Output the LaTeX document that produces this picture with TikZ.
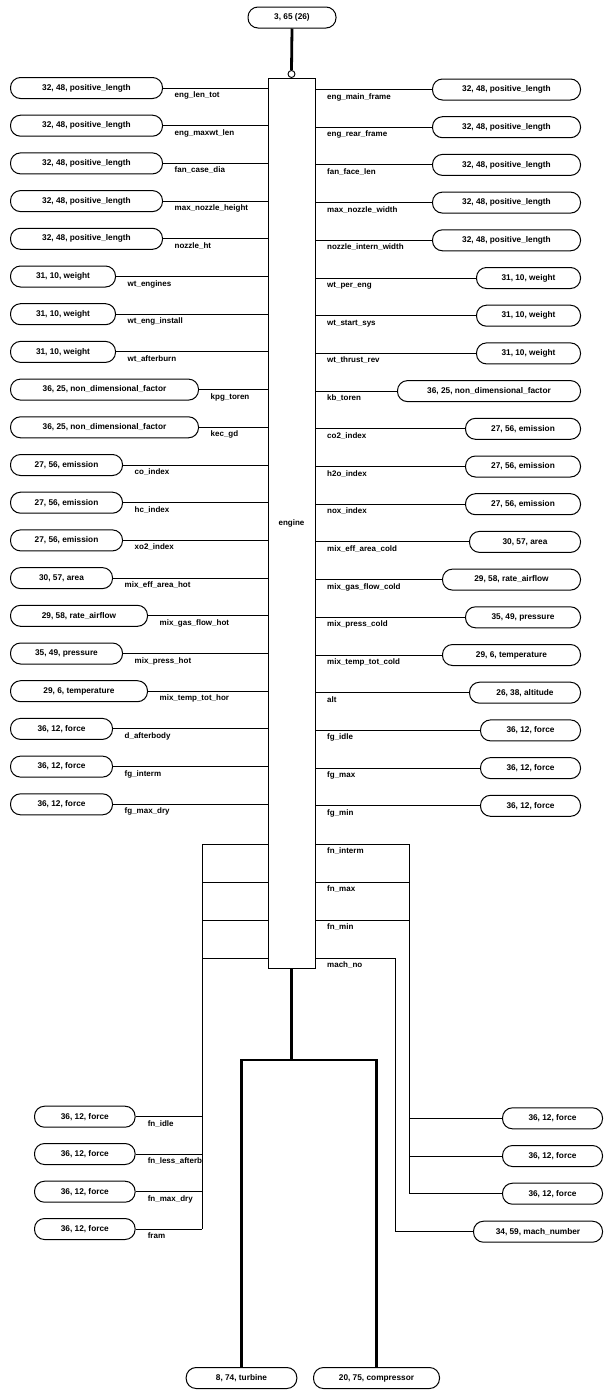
\documentclass[tikz,border=0pt]{standalone}
\usepackage{fontspec}
\setmainfont{Liberation Sans}
\begin{document}
\begin{tikzpicture}[x=1pt,y=-1pt,
  ent/.style={draw, line width=1pt, rounded corners=10pt, minimum height=21pt,
    inner sep=0pt, font=\bfseries\fontsize{8.3}{9}\selectfont},
  role/.style={inner sep=0pt, font=\bfseries\fontsize{8}{9}\selectfont},
  rel/.style={line width=0.9pt},
  thickrel/.style={line width=2.8pt},
]
\useasboundingbox (0,0) rectangle (604,1390);

% type references
\def\pl{32, 48, positive\_length}
\def\wt{31, 10, weight}
\def\nd{36, 25, non\_dimensional\_factor}
\def\em{27, 56, emission}
\def\ar{30, 57, area}
\def\ra{29, 58, rate\_airflow}
\def\pr{35, 49, pressure}
\def\te{29, 6, temperature}
\def\al{26, 38, altitude}
\def\fo{36, 12, force}

% entity box and its supertype reference
\node[draw, line width=1pt, fill=white, minimum width=47pt, minimum height=890pt,
  inner sep=0pt, font=\bfseries\fontsize{8}{9}\selectfont] (eng) at (291.5,523) {engine};
\node[ent, minimum width=88pt] (top) at (292,17.5) {3, 65 (26)};
\node[circle, draw, fill=white, line width=0.9pt, minimum size=7pt, inner sep=0pt] (circ) at (291.5,74) {};
\draw[thickrel] (top.south) -- (circ.north);

% attributes on the left
\foreach \t/\w/\lab [count=\i from 0] in {
  \pl/152/eng\_len\_tot, \pl/152/eng\_maxwt\_len, \pl/152/fan\_case\_dia,
  \pl/152/max\_nozzle\_height, \pl/152/nozzle\_ht,
  \wt/105/wt\_engines, \wt/105/wt\_eng\_install, \wt/105/wt\_afterburn,
  \nd/188/kpg\_toren, \nd/188/kec\_gd,
  \em/112/co\_index, \em/112/hc\_index, \em/112/xo2\_index,
  \ar/102/mix\_eff\_area\_hot, \ra/137/mix\_gas\_flow\_hot,
  \pr/112/mix\_press\_hot, \te/137/mix\_temp\_tot\_hor,
  \fo/102/d\_afterbody, \fo/102/fg\_interm, \fo/102/fg\_max\_dry} {
  \pgfmathsetmacro\yy{88+37.7*\i}
  \node[ent, minimum width=\w pt, anchor=west] (L\i) at (10,\yy) {\t};
  \draw[rel] (L\i.east) -- (L\i.east -| eng.west);
  \node[role, anchor=base west] (Ll\i) at ([xshift=11.5pt,yshift=-9.5pt]L\i.east) {\lab};
}

% attributes on the right
\foreach \t/\w/\lab [count=\i from 0] in {
  \pl/148/eng\_main\_frame, \pl/148/eng\_rear\_frame, \pl/148/fan\_face\_len,
  \pl/148/max\_nozzle\_width, \pl/148/nozzle\_intern\_width,
  \wt/104/wt\_per\_eng, \wt/104/wt\_start\_sys, \wt/104/wt\_thrust\_rev,
  \nd/183/kb\_toren,
  \em/115/co2\_index, \em/115/h2o\_index, \em/115/nox\_index,
  \ar/111/mix\_eff\_area\_cold, \ra/138/mix\_gas\_flow\_cold,
  \pr/115/mix\_press\_cold, \te/138/mix\_temp\_tot\_cold,
  \al/111/alt,
  \fo/100/fg\_idle, \fo/100/fg\_max, \fo/100/fg\_min} {
  \pgfmathsetmacro\yy{89.5+37.7*\i}
  \node[ent, minimum width=\w pt, anchor=east] (R\i) at (581,\yy) {\t};
  \coordinate (Rc\i) at (R\i.west -| eng.east);
  \draw[rel] (Rc\i) -- (R\i.west);
  \node[role, anchor=base west] (Rl\i) at ([xshift=11.5pt,yshift=-9.5pt]Rc\i) {\lab};
}

% attributes routed down to the lower references
\foreach \yy/\xr/\lab [count=\k] in {844/409.5/fn\_interm, 882/409.5/fn\_max,
  920/409.5/fn\_min, 958/395/mach\_no} {
  \coordinate (fl\k) at (202,\yy);
  \coordinate (fr\k) at (\xr,\yy);
  \coordinate (fa\k) at (fr\k -| eng.east);
  \draw[rel] (fl\k) -- (fl\k -| eng.west);
  \draw[rel] (fa\k) -- (fr\k);
  \node[role, anchor=base west] (fn\k) at ([xshift=11.5pt,yshift=-9.5pt]fa\k) {\lab};
}

% lower left references
\foreach \yy/\lab [count=\k from 0] in {1116.7/fn\_idle, 1154/fn\_less\_afterb,
  1191.7/fn\_max\_dry, 1229/fram} {
  \node[ent, minimum width=100.6pt, anchor=west] (B\k) at (34,\yy) {\fo};
  \draw[rel] (B\k.east) -- (B\k.east -| fl1);
  \node[role, anchor=base west] (Bl\k) at ([xshift=12pt,yshift=-9.5pt]B\k.east) {\lab};
}
\draw[rel] (fl1) -- (fl1 |- B3.east);

% lower right references
\foreach \yy [count=\k from 0] in {1118.3, 1156, 1193.7} {
  \node[ent, minimum width=100pt, anchor=east] (C\k) at (603,\yy) {\fo};
  \draw[rel] (fr1 |- C\k.west) -- (C\k.west);
}
\draw[rel] (fr1) -- (fr1 |- C2.west);
\node[ent, minimum width=129pt, anchor=east] (C3) at (603,1231.7) {34, 59, mach\_number};
\draw[rel] (fr4) |- (C3.west);

% subtypes
\node[ent, minimum width=110.7pt] (turb) at (241.5,1378) {8, 74, turbine};
\node[ent, minimum width=126pt] (comp) at (376.5,1378) {20, 75, compressor};
\coordinate (j) at (291.5,1060);
\draw[thickrel] (eng.south) -- (j);
\draw[thickrel, line join=miter] (turb.north) |- (j) -| (comp.north);
\end{tikzpicture}
\end{document}
